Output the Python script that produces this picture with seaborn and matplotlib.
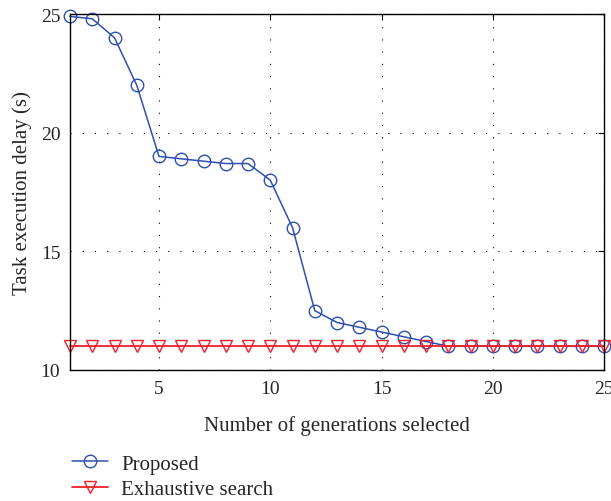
import matplotlib
matplotlib.use("Agg")
import matplotlib.pyplot as plt
import seaborn as sns

generations = list(range(1, 26))
proposed = [24.9, 24.8, 24.0, 22.0, 19.0, 18.9, 18.8, 18.7, 18.7, 18.0,
            16.0, 12.5, 12.0, 11.8, 11.6, 11.4, 11.2, 11.0, 11.0, 11.0,
            11.0, 11.0, 11.0, 11.0, 11.0]
exhaustive = [11.0] * 25
x_ticks = [5, 10, 15, 20, 25]
y_ticks = [10, 15, 20, 25]

sns.set_style("white")
plt.rcParams['font.family'] = ['Liberation Serif', 'DejaVu Serif']

blue = "#2f4fb0"
red = "#f0202a"

fig = plt.figure(figsize=(6.11, 5.02), dpi=100)
ax = fig.add_axes([0.1146, 0.261, 0.874, 0.709])

sns.lineplot(x=generations, y=proposed, ax=ax, color=blue, lw=1.1,
             marker='o', markersize=9, markerfacecolor='none',
             markeredgecolor=blue, markeredgewidth=1.0, clip_on=False,
             label="Proposed")
sns.lineplot(x=generations, y=exhaustive, ax=ax, color=red, lw=1.3,
             marker='v', markersize=9, markerfacecolor='none',
             markeredgecolor=red, markeredgewidth=1.0, clip_on=False,
             label="Exhaustive search")

ax.set_xlim(1, 25)
ax.set_ylim(10, 25)
ax.set_xticks(x_ticks)
ax.set_yticks(y_ticks)
ax.tick_params(direction='in', top=True, right=True, labelsize=14, length=4,
               color='black', pad=7)
ax.grid(True, linestyle=(0, (1, 10)), color='black', linewidth=0.8)
for s in ax.spines.values():
    s.set_color('black')
    s.set_linewidth(1.0)
ax.set_xlabel("Number of generations selected", fontsize=15, labelpad=13)
ax.set_ylabel("Task execution delay (s)", fontsize=15, labelpad=6)

ax.legend(loc='upper left', bbox_to_anchor=(0.004, -0.236), frameon=False,
          fontsize=15, handlelength=1.7, labelspacing=0.3, handletextpad=0.65,
          borderaxespad=0, borderpad=0)

fig.savefig("out.png", dpi=100)
